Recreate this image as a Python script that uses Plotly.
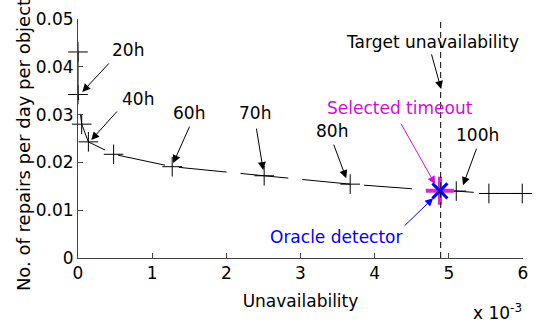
import plotly.graph_objects as go

# Data (unavailability, repairs per day per object)
unavail = [0.0, 0.0, 0.00005, 0.00014, 0.00048, 0.00127, 0.00251, 0.00367, 0.00488, 0.00510, 0.00554, 0.00599]
repairs = [0.0431, 0.0342, 0.0280, 0.0243, 0.0217, 0.0191, 0.0172, 0.01545, 0.01405, 0.0140, 0.0135, 0.0135]

selected_x = [0.00488]
selected_y = [0.01405]
target_unavail = 0.00489

xtick_vals = [0, 0.001, 0.002, 0.003, 0.004, 0.005, 0.006]
xtick_text = ["0", "1", "2", "3", "4", "5", "6"]
ytick_vals = [0, 0.01, 0.02, 0.03, 0.04, 0.05]
ytick_text = ["0", "0.01", "0.02", "0.03", "0.04", "0.05"]

FONT = "DejaVu Sans, Liberation Sans, sans-serif"

fig = go.Figure()
fig.add_trace(go.Scatter(
    x=unavail, y=repairs, mode="lines+markers",
    line=dict(color="black", width=1, dash="48px,14px"),
    marker=dict(symbol="cross-thin", size=14, line=dict(color="black", width=1)),
    showlegend=False, cliponaxis=False))
fig.add_trace(go.Scatter(
    x=selected_x, y=selected_y, mode="markers",
    marker=dict(symbol="cross-thin", size=20, line=dict(color="#e020e0", width=4)),
    showlegend=False, cliponaxis=False))
fig.add_trace(go.Scatter(
    x=selected_x, y=selected_y, mode="markers",
    marker=dict(symbol="x-thin", size=15, line=dict(color="blue", width=3)),
    showlegend=False, cliponaxis=False))

fig.add_shape(type="line", xref="x", yref="paper", x0=target_unavail, x1=target_unavail,
              y0=0, y1=1, line=dict(color="black", width=1, dash="6px,4px"))

# text labels (data coords)
labels = [
    ("20h", 0.000677, 0.0435, "black"),
    ("40h", 0.000813, 0.0333, "black"),
    ("60h", 0.00149, 0.0303, "black"),
    ("70h", 0.00239, 0.0303, "black"),
    ("80h", 0.00343, 0.0266, "black"),
    ("Target unavailability", 0.004775, 0.0452, "black"),
    ("Selected timeout", 0.004345, 0.0314, "#d010d0"),
    ("100h", 0.00538, 0.0257, "black"),
    ("Oracle detector", 0.00349, 0.00434, "blue"),
]
for t, x, y, c in labels:
    fig.add_annotation(x=x, y=y, text=t, showarrow=False, xanchor="center", yanchor="middle",
                       font=dict(family=FONT, size=17, color=c))

# arrows: tip (data coords), pixel offsets of tail
arrows = [
    (0.000058, 0.03474, 28, -30, "black"),
    (0.000179, 0.02468, 27, -30, "black"),
    (0.001284, 0.01985, 17, -38, "black"),
    (0.002497, 0.01839, -7, -43, "black"),
    (0.003616, 0.01671, -13, -35, "black"),
    (0.004896, 0.03537, -10, -36, "black"),
    (0.004815, 0.01545, -35, -62, "#d010d0"),
    (0.005192, 0.01524, 14, -38, "black"),
    (0.004788, 0.01252, -30, 29, "blue"),
]
for x, y, ax, ay, c in arrows:
    fig.add_annotation(x=x, y=y, ax=ax, ay=ay, axref="pixel", ayref="pixel", text="",
                       showarrow=True, arrowhead=2, arrowsize=1.6, arrowwidth=1,
                       arrowcolor=c, standoff=0, startstandoff=0)

fig.add_annotation(xref="paper", yref="paper", x=0.943, y=-0.225, text="x 10<sup>-3</sup>",
                   showarrow=False, xanchor="center", yanchor="middle",
                   font=dict(family=FONT, size=17, color="black"))

# y axis title as rotated annotation
fig.add_annotation(xref="paper", yref="paper", x=-0.121, y=0.473,
                   text="No. of repairs per day per object", textangle=-90,
                   showarrow=False, xanchor="center", yanchor="middle",
                   font=dict(family=FONT, size=18, color="black"))

fig.update_layout(
    width=537, height=325,
    margin=dict(l=78, r=14, t=19, b=67),
    paper_bgcolor="white", plot_bgcolor="white",
    font=dict(family=FONT, size=17, color="black"),
    xaxis=dict(range=[0, 0.006], tickvals=xtick_vals, ticktext=xtick_text,
               ticks="inside", ticklen=5, tickcolor="#444", showline=True, linecolor="#444",
               linewidth=1, showgrid=False, zeroline=False, mirror=False, automargin=False,
               title=dict(text="Unavailability", standoff=12, font=dict(size=17))),
    yaxis=dict(range=[0, 0.05], tickvals=ytick_vals, ticktext=ytick_text,
               ticks="inside", ticklen=5, tickcolor="#444", showline=True, linecolor="#444",
               linewidth=1, showgrid=False, zeroline=False, mirror=False, automargin=False),
)

fig.write_html("out.html")
